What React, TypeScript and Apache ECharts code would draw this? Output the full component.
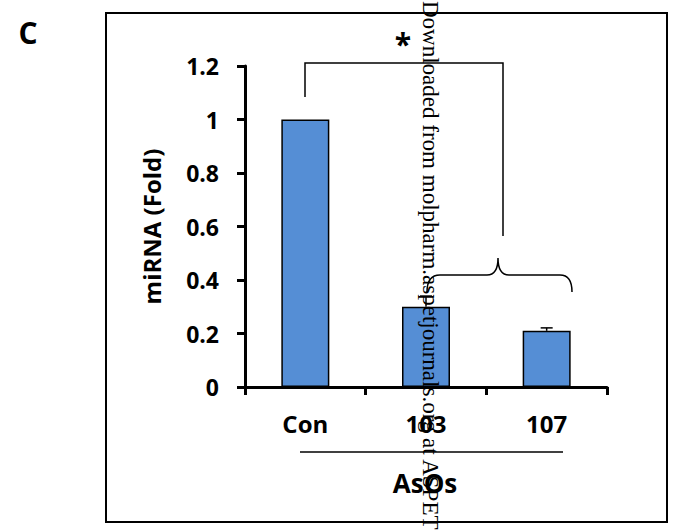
import React, { useEffect, useRef } from "react";
import * as echarts from "echarts";

const categories = ["Con", "103", "107"];
const values = [1.0, 0.3, 0.21];
const errors = [0, 0.04, 0.011];
const yTickLabels = ["0", "0.2", "0.4", "0.6", "0.8", "1", "1.2"];
const groupLabel = "AsOs";
const panelLabel = "C";
const yTitle = "miRNA (Fold)";
const watermark = "Downloaded from molpharm.aspetjournals.org at ASPET";

const FONT = "'Open Sans', 'Noto Sans', sans-serif";

echarts.graphic.registerShape(
  "brace",
  echarts.graphic.extendPath(
    "M427 292 Q427 275 440 275 L487 275 Q498 275 498 258 Q498 275 509 275 L560 275 Q572 275 572 292",
    {}
  )
);

export default function App() {
  const ref = useRef<HTMLDivElement>(null);
  useEffect(() => {
    if (!ref.current) return;
    const chart = echarts.init(ref.current, null, { renderer: "svg" });
    const errData = categories
      .map((c, i) => [i, values[i], errors[i]])
      .filter((d) => d[2] > 0);
    chart.setOption({
      animation: false,
      backgroundColor: "#fff",
      grid: { left: 245, right: 70, top: 66, bottom: 143 },
      xAxis: {
        type: "category",
        data: categories,
        axisLine: { lineStyle: { color: "#000", width: 3 } },
        axisTick: { show: true, length: 8, lineStyle: { color: "#000", width: 3 } },
        axisLabel: {
          color: "#000",
          fontFamily: FONT,
          fontWeight: "bold",
          fontSize: 24,
          margin: 24,
        },
      },
      yAxis: {
        type: "value",
        min: 0,
        max: 1.2,
        interval: 0.2,
        name: yTitle,
        nameLocation: "middle",
        nameGap: 82,
        nameTextStyle: {
          color: "#000",
          fontFamily: FONT,
          fontWeight: "bold",
          fontSize: 24,
        },
        splitLine: { show: false },
        axisLine: { show: true, lineStyle: { color: "#000", width: 3 } },
        axisTick: { show: true, length: 8, lineStyle: { color: "#000", width: 3 } },
        axisLabel: {
          color: "#000",
          fontFamily: FONT,
          fontWeight: "bold",
          fontSize: 23,
          margin: 26,
          formatter: (_v: number, i: number) => yTickLabels[i],
        },
      },
      series: [
        {
          type: "bar",
          data: values,
          barWidth: 48,
          itemStyle: { color: "#558ED5", borderColor: "#000", borderWidth: 1.5 },
        },
        {
          type: "custom",
          data: errData,
          z: 3,
          renderItem: (_params: any, api: any) => {
            const x = api.value(0);
            const v = api.value(1);
            const e = api.value(2);
            const p0 = api.coord([x, v]);
            const p1 = api.coord([x, v + e]);
            return {
              type: "group",
              children: [
                {
                  type: "line",
                  shape: { x1: p0[0], y1: p0[1], x2: p1[0], y2: p1[1] },
                  style: { stroke: "#000", lineWidth: 1.5 },
                },
                {
                  type: "line",
                  shape: { x1: p1[0] - 6, y1: p1[1], x2: p1[0] + 6, y2: p1[1] },
                  style: { stroke: "#000", lineWidth: 1.5 },
                },
              ],
            };
          },
        },
      ],
      graphic: [
        {
          type: "rect",
          shape: { x: 106, y: 13, width: 561, height: 509 },
          style: { fill: "none", stroke: "#000", lineWidth: 2 },
          z: 10,
        },
        {
          type: "text",
          x: 28,
          y: 32,
          style: {
            text: panelLabel,
            font: `bold 30px ${FONT}`,
            fill: "#000",
            textAlign: "center",
            textVerticalAlign: "middle",
          },
        },
        {
          type: "text",
          x: 403,
          y: 43,
          style: {
            text: "*",
            font: `bold 30px ${FONT}`,
            fill: "#000",
            textAlign: "center",
            textVerticalAlign: "middle",
          },
        },
        {
          type: "polyline",
          shape: { points: [[305, 97], [305, 63], [503, 63], [503, 236]] },
          style: { stroke: "#000", lineWidth: 1.5, fill: "none" },
        },
        {
          type: "brace",
          x: 0,
          y: 0,
          style: { stroke: "#000", lineWidth: 1.5, fill: "none" },
        },
        {
          type: "line",
          shape: { x1: 300, y1: 452, x2: 563, y2: 452 },
          style: { stroke: "#000", lineWidth: 1.5 },
        },
        {
          type: "text",
          x: 425,
          y: 483,
          style: {
            text: groupLabel,
            font: `bold 26px ${FONT}`,
            fill: "#000",
            textAlign: "center",
            textVerticalAlign: "middle",
          },
        },
        {
          type: "text",
          x: 419,
          y: 1,
          rotation: -Math.PI / 2,
          z: 20,
          style: {
            text: watermark,
            font: "23px 'Liberation Serif', 'Times New Roman', serif",
            fill: "#000",
            textAlign: "left",
            textVerticalAlign: "bottom",
          },
        },
      ],
    });
    return () => chart.dispose();
  }, []);
  return (
    <div
      ref={ref}
      style={{ position: "fixed", left: 0, top: 0, width: 677, height: 530 }}
    />
  );
}
